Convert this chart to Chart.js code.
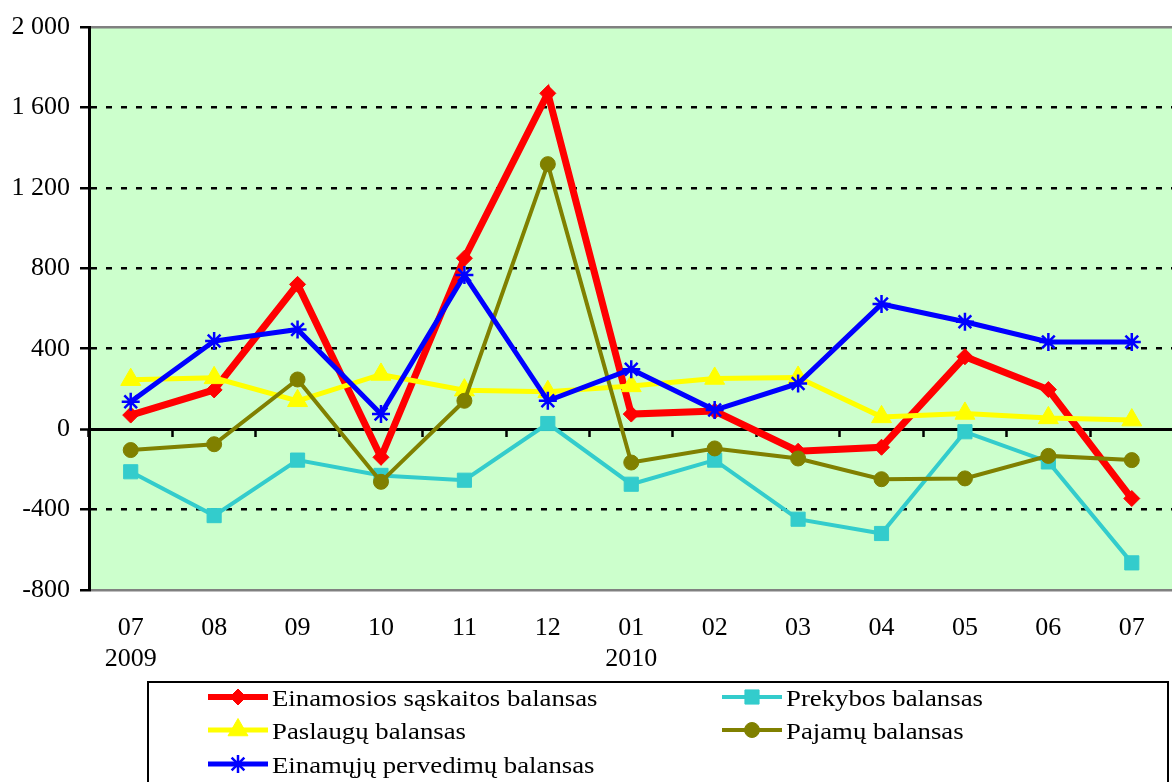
<!DOCTYPE html>
<html>
<head>
<meta charset="utf-8">
<script src="https://cdn.jsdelivr.net/npm/chart.js@4.4.1/dist/chart.umd.min.js"></script>
<style>
  html, body { margin: 0; padding: 0; background: #fff; overflow: hidden; }
  #wrap { width: 1172px; height: 782px; overflow: hidden; }
</style>
</head>
<body>
<div id="wrap"><canvas id="chart" width="1186" height="782"></canvas></div>
<script>
// months, Jul 2009 - Jul 2010
const months = [['07', '2009'], '08', '09', '10', '11', '12', ['01', '2010'], '02', '03', '04', '05', '06', '07'];

const einamosios = [70, 195, 720, -140, 850, 1670, 75, 90, -110, -90, 360, 197, -345];
const prekybos   = [-212, -430, -154, -230, -254, 28, -274, -154, -448, -519, -13, -163, -665];
const paslaugu   = [246, 255, 141, 272, 194, 186, 215, 252, 257, 61, 78, 56, 45];
const pajamu     = [-104, -75, 247, -262, 141, 1318, -166, -96, -146, -249, -245, -133, -154];
const pervedimu  = [136, 438, 496, 75, 766, 141, 298, 95, 227, 622, 534, 434, 434];

const seriesNames = [
  'Einamosios sąskaitos balansas',
  'Prekybos balansas',
  'Paslaugų balansas',
  'Pajamų balansas',
  'Einamųjų pervedimų balansas'
];

const yMin = -800, yMax = 2000, yStep = 400;

const serif = "'Liberation Serif', 'Times New Roman', serif";

function fmt(v) {
  return String(v).replace(/\B(?=(\d{3})+(?!\d))/g, ' ');
}

function line(label, data, color, width, style, radius, pbw, order) {
  return {
    label: label,
    data: data,
    borderColor: color,
    backgroundColor: color,
    borderWidth: width,
    pointStyle: style,
    pointRadius: radius,
    pointBorderWidth: pbw,
    pointBackgroundColor: color,
    pointBorderColor: color,
    tension: 0,
    order: order
  };
}

// legend drawn inside the canvas, two columns in a framed box
const legendBox = {
  id: 'legendBox',
  afterDraw(chart) {
    const ctx = chart.ctx;
    ctx.save();
    ctx.strokeStyle = '#000';
    ctx.lineWidth = 2;
    ctx.strokeRect(148, 682, 1020, 130);

    const cols = [208, 722];
    const rows = [697, 730, 764];
    chart.data.datasets.forEach((ds, i) => {
      const x = cols[i % 2];
      const y = rows[Math.floor(i / 2)];
      ctx.strokeStyle = ds.borderColor;
      ctx.fillStyle = ds.borderColor;
      ctx.lineWidth = Math.min(ds.borderWidth, 6);
      ctx.beginPath();
      ctx.moveTo(x, y);
      ctx.lineTo(x + 60, y);
      ctx.stroke();
      if (Chart.helpers && Chart.helpers.drawPoint) {
        ctx.lineWidth = ds.pointBorderWidth;
        Chart.helpers.drawPoint(ctx, {
          pointStyle: ds.pointStyle,
          radius: ds.pointRadius,
          rotation: 0,
          borderWidth: ds.pointBorderWidth
        }, x + 30, y);
      }
      // text is a little wider than the font, as in the source picture
      ctx.save();
      ctx.translate(x + 64, y + 3);
      ctx.scale(1.115, 1);
      ctx.fillStyle = '#000';
      ctx.font = '24px ' + serif;
      ctx.textBaseline = 'middle';
      ctx.textAlign = 'left';
      ctx.fillText(ds.label, 0, 0);
      ctx.restore();
    });
    ctx.restore();
  }
};

new Chart(document.getElementById('chart'), {
  type: 'line',
  data: {
    labels: months,
    datasets: [
      line(seriesNames[0], einamosios, '#FF0000', 7, 'rectRot', 8, 1, 5),
      line(seriesNames[1], prekybos, '#33CCCC', 4, 'rect', 10, 1, 4),
      line(seriesNames[2], paslaugu, '#FFFF00', 5, 'triangle', 11.5, 1, 3),
      line(seriesNames[3], pajamu, '#808000', 4, 'circle', 7.5, 1, 2),
      line(seriesNames[4], pervedimu, '#0000FF', 5, 'star', 9, 2.5, 1)
    ]
  },
  options: {
    responsive: false,
    animation: false,
    devicePixelRatio: 1,
    layout: { padding: { top: 27, right: 1, bottom: 0, left: 0 } },
    plugins: {
      legend: { display: false },
      tooltip: { enabled: false }
    },
    scales: {
      x: {
        offset: true,
        grid: { display: false },
        border: { display: false },
        ticks: {
          color: '#000',
          padding: 15,
          maxRotation: 0,
          autoSkip: false,
          font: { family: serif, size: 26, lineHeight: 1.18 }
        },
        afterFit: s => { s.height = 192; }
      },
      // tick marks along the zero line
      x2: {
        position: { y: 0 },
        offset: true,
        ticks: { display: false },
        border: { display: false },
        grid: {
          offset: true,
          drawOnChartArea: false,
          drawTicks: true,
          tickLength: 8,
          tickColor: '#000',
          tickWidth: 2.5
        }
      },
      y: {
        min: yMin,
        max: yMax,
        ticks: {
          stepSize: yStep,
          color: '#000',
          padding: 10,
          font: { family: serif, size: 26 },
          callback: v => fmt(v)
        },
        grid: {
          color: ctx => (ctx.tick && (ctx.tick.value === yMax || ctx.tick.value === yMin)) ? '#808080' : '#000',
          lineWidth: ctx => (ctx.tick && ctx.tick.value === 0) ? 3 : 2.5,
          drawTicks: true,
          tickLength: 9,
          tickColor: '#000',
          tickWidth: 2.5,
          tickBorderDash: []
        },
        border: {
          display: true,
          color: '#000',
          width: 3,
          dash: ctx => (ctx.tick && [yMin, 0, yMax].includes(ctx.tick.value)) ? [] : [6, 9]
        },
        afterFit: s => { s.width = 89; }
      }
    }
  },
  plugins: [
    {
      id: 'plotBg',
      beforeDraw(chart) {
        const a = chart.chartArea;
        const ctx = chart.ctx;
        ctx.save();
        ctx.fillStyle = '#CCFFCC';
        ctx.fillRect(a.left, a.top, a.right - a.left, a.bottom - a.top);
        ctx.restore();
      }
    },
    legendBox
  ]
});
</script>
</body>
</html>
